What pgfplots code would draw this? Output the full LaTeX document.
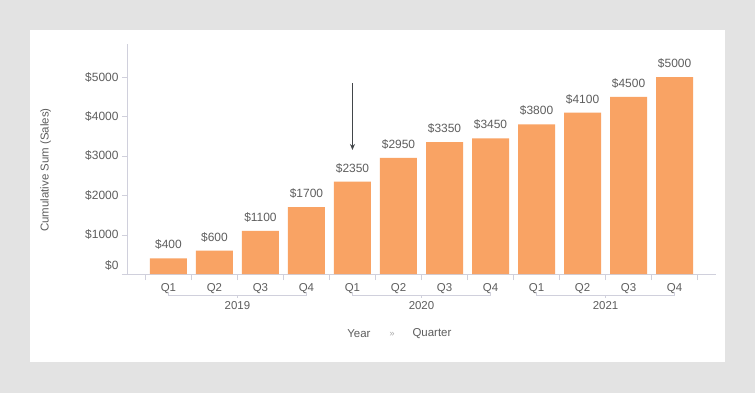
\documentclass[border=0pt]{standalone}
\usepackage{pgfplots}
\pgfplotsset{compat=1.18}
\usepackage{fontspec}
\setmainfont{Liberation Sans}
\usetikzlibrary{arrows.meta}
\definecolor{bggray}{HTML}{E3E3E3}
\definecolor{barorange}{HTML}{F9A364}
\definecolor{axisgray}{HTML}{D0D0DC}
\definecolor{txt}{HTML}{5E5E5E}
\definecolor{arrowgray}{HTML}{42464A}
\begin{document}
\begin{tikzpicture}
\useasboundingbox (-127bp,-118.8bp) rectangle (628bp,274.2bp);
\fill[bggray] (-127bp,-118.8bp) rectangle (628bp,274.2bp);
\fill[white] (-97bp,-87.8bp) rectangle (598bp,244.2bp);
\begin{axis}[
  at={(0,0)}, anchor=south west,
  scale only axis, width=589bp, height=230.2bp,
  xmin=-0.9, xmax=11.9, ymin=0, ymax=5842,
  axis x line=bottom, axis y line=left,
  axis line style={axisgray, -},
  clip=false,
  font=\fontsize{11.5}{13}\selectfont,
  tick align=outside,
  xtick={0,...,11},
  xticklabels={Q1,Q2,Q3,Q4,Q1,Q2,Q3,Q4,Q1,Q2,Q3,Q4},
  minor xtick={-0.5,0.5,...,11.5},
  xtick style={draw=none},
  minor x tick style={draw=axisgray},
  minor tick length=6bp,
  xticklabel style={anchor=base, yshift=-12.5bp, text=txt},
  ytick={1000,2000,3000,4000,5000},
  yticklabels={\$1000,\$2000,\$3000,\$4000,\$5000},
  extra y ticks={0},
  extra y tick labels={\$0},
  extra y tick style={yticklabel style={yshift=9bp}},
  ytick style={draw=axisgray},
  major tick length=5bp,
  yticklabel style={text=txt, font=\fontsize{12}{14}\selectfont},
  /pgf/number format/1000 sep={},
  nodes near coords={\$\pgfmathprintnumber[assume math mode=true]{\pgfplotspointmeta}},
  every node near coord/.append style={anchor=center, yshift=13.5bp, text=txt, font=\fontsize{12}{14}\selectfont},
]
\addplot[ybar, bar width=37bp, fill=barorange, draw=none] coordinates {
  (0,400) (1,600) (2,1100) (3,1700)
  (4,2350) (5,2950) (6,3350) (7,3450)
  (8,3800) (9,4100) (10,4500) (11,5000)
};
\foreach \g/\yr in {0/2019,4/2020,8/2021}{
  \pgfmathsetmacro{\a}{\g}
  \pgfmathsetmacro{\b}{\g+3}
  \pgfmathsetmacro{\m}{\g+1.5}
  \edef\temp{\noexpand\draw[axisgray] ([yshift=-18.1bp]axis cs:\a,0) -- ([yshift=-21.1bp]axis cs:\a,0) -- ([yshift=-21.1bp]axis cs:\b,0) -- ([yshift=-18.1bp]axis cs:\b,0);
    \noexpand\draw[axisgray] ([yshift=-21.1bp]axis cs:\m,0) -- ([yshift=-23.6bp]axis cs:\m,0);
    \noexpand\node[text=txt, anchor=base, font=\noexpand\fontsize{11.5}{13}\noexpand\selectfont] at ([yshift=-35.5bp]axis cs:\m,0) {\yr};}
  \temp
}
\draw[arrowgray, line width=1.4bp, -{Stealth[length=6bp,width=5bp]}] (axis cs:4,4845) -- (axis cs:4,3152);
\end{axis}
\node[rotate=90, text=txt, font=\fontsize{11.5}{13}\selectfont] at (-81.3bp,104.2bp) {Cumulative Sum (Sales)};
\node[text=txt, font=\fontsize{11.5}{13}\selectfont] at (231.9bp,-59.8bp) {Year};
\node[text=gray!70, font=\fontsize{9}{11}\selectfont] at (265bp,-60.3bp) {»};
\node[text=txt, font=\fontsize{11.5}{13}\selectfont] at (305bp,-59.8bp) {Quarter};
\end{tikzpicture}
\end{document}
